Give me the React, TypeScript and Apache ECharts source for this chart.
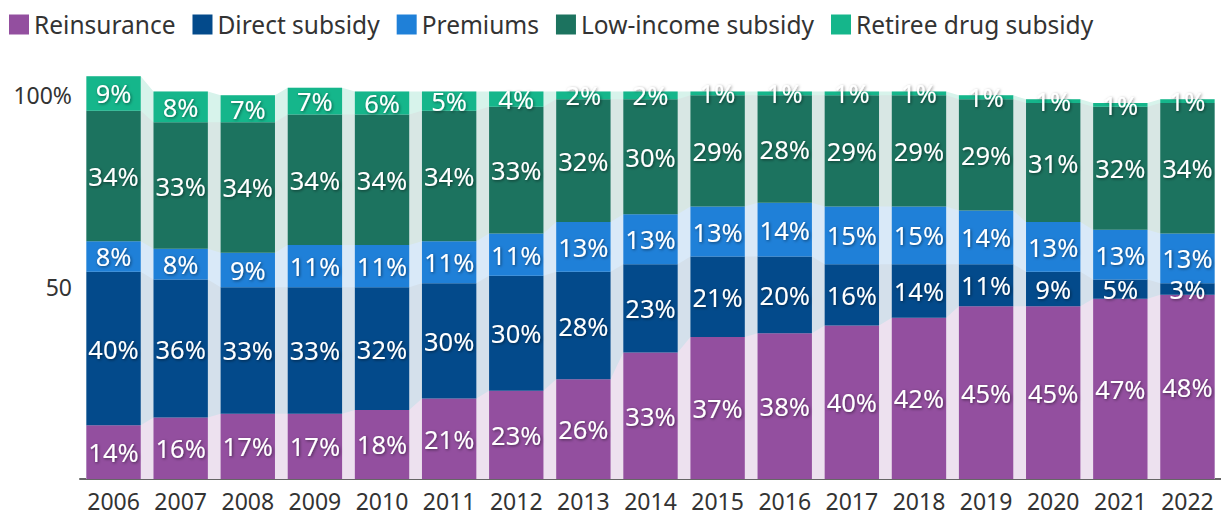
import React, { useEffect, useRef } from "react";
import * as echarts from "echarts";

const years = ["2006","2007","2008","2009","2010","2011","2012","2013","2014","2015","2016","2017","2018","2019","2020","2021","2022"];
const reinsurance = [14,16,17,17,18,21,23,26,33,37,38,40,42,45,45,47,48];
const directSubsidy = [40,36,33,33,32,30,30,28,23,21,20,16,14,11,9,5,3];
const premiums = [8,8,9,11,11,11,11,13,13,13,14,15,15,14,13,13,13];
const lowIncome = [34,33,34,34,34,34,33,32,30,29,28,29,29,29,31,32,34];
const retiree = [9,8,7,7,6,5,4,2,2,1,1,1,1,1,1,1,1];

const seriesNames = ["Reinsurance","Direct subsidy","Premiums","Low-income subsidy","Retiree drug subsidy"];
const seriesData = [reinsurance, directSubsidy, premiums, lowIncome, retiree];
const colors = ["#934f9f","#034a8b","#1f80d8","#1c735f","#15b68b"];

const FONT = "'Noto Sans', sans-serif";
const BAR_FRAC = 0.81;
const BAND_ALPHA = 0.17;

function pale(hex: string, a: number): string {
  const n = parseInt(hex.slice(1), 16);
  const r = (n >> 16) & 255, g = (n >> 8) & 255, b = n & 255;
  const mix = (c: number) => Math.round(255 - a * (255 - c));
  return `rgb(${mix(r)},${mix(g)},${mix(b)})`;
}

export default function App() {
  const ref = useRef<HTMLDivElement>(null);
  useEffect(() => {
    if (!ref.current) return;
    const chart = echarts.init(ref.current, undefined, { renderer: "svg" });
    const hw = BAR_FRAC / 2;
    const bars = seriesNames.map((name, k) => ({
      name,
      type: "bar",
      stack: "bars",
      xAxisIndex: 0,
      yAxisIndex: 0,
      barWidth: `${BAR_FRAC * 100}%`,
      z: 3,
      itemStyle: { color: colors[k] },
      label: {
        show: true,
        position: "inside",
        formatter: "{c}%",
        color: "#ffffff",
        fontFamily: FONT,
        fontSize: 25.5,
        textShadowColor: "rgba(0,0,0,0.5)",
        textShadowBlur: 3,
        textShadowOffsetX: 1,
        textShadowOffsetY: 1,
      },
      data: seriesData[k],
    }));
    // cumulative tops for connecting bands (drawn top series first, lower ones over them)
    const cumulative = seriesData.map((_, k) =>
      years.map((_, i) => seriesData.slice(0, k + 1).reduce((s, arr) => s + arr[i], 0))
    );
    const bands = seriesNames
      .map((name, k) => {
        const pts: number[][] = [];
        cumulative[k].forEach((v, i) => {
          pts.push([i - hw, v]);
          pts.push([i + hw, v]);
        });
        return {
          name: name + " band",
          type: "line",
          xAxisIndex: 1,
          yAxisIndex: 0,
          z: 1,
          symbol: "none",
          silent: true,
          lineStyle: { width: 0, opacity: 0 },
          areaStyle: { color: pale(colors[k], BAND_ALPHA), opacity: 1 },
          data: pts,
        };
      })
      .reverse();
    chart.setOption({
      animation: false,
      textStyle: { fontFamily: FONT },
      legend: {
        data: seriesNames,
        left: 9,
        top: 12,
        padding: 0,
        icon: "rect",
        itemWidth: 20,
        itemHeight: 20,
        itemGap: 17,
        textStyle: { fontFamily: FONT, fontSize: 24.5, color: "#333" },
        selectedMode: false,
      },
      grid: { left: 80, right: -8, top: 57, bottom: 37 },
      xAxis: [
        {
          type: "category",
          data: years,
          axisTick: { show: false },
          axisLine: { lineStyle: { color: "#666", width: 2 } },
          axisLabel: { color: "#333", fontFamily: FONT, fontSize: 23, margin: 10, interval: 0 },
        },
        {
          type: "value",
          min: -0.5,
          max: years.length - 0.5,
          show: false,
        },
      ],
      yAxis: {
        type: "value",
        min: 0,
        max: 110,
        interval: 50,
        splitLine: { show: false },
        axisLine: { show: false },
        axisTick: { show: false },
        axisLabel: {
          color: "#333",
          fontFamily: FONT,
          fontSize: 23,
          margin: 8,
          formatter: (v: number) => (v === 100 ? "100%" : v === 50 ? "50" : ""),
        },
      },
      series: [...bands, ...bars],
    });
    return () => chart.dispose();
  }, []);
  return (
    <div
      ref={ref}
      style={{ position: "absolute", left: 0, top: 0, width: 1221, height: 516 }}
    />
  );
}
